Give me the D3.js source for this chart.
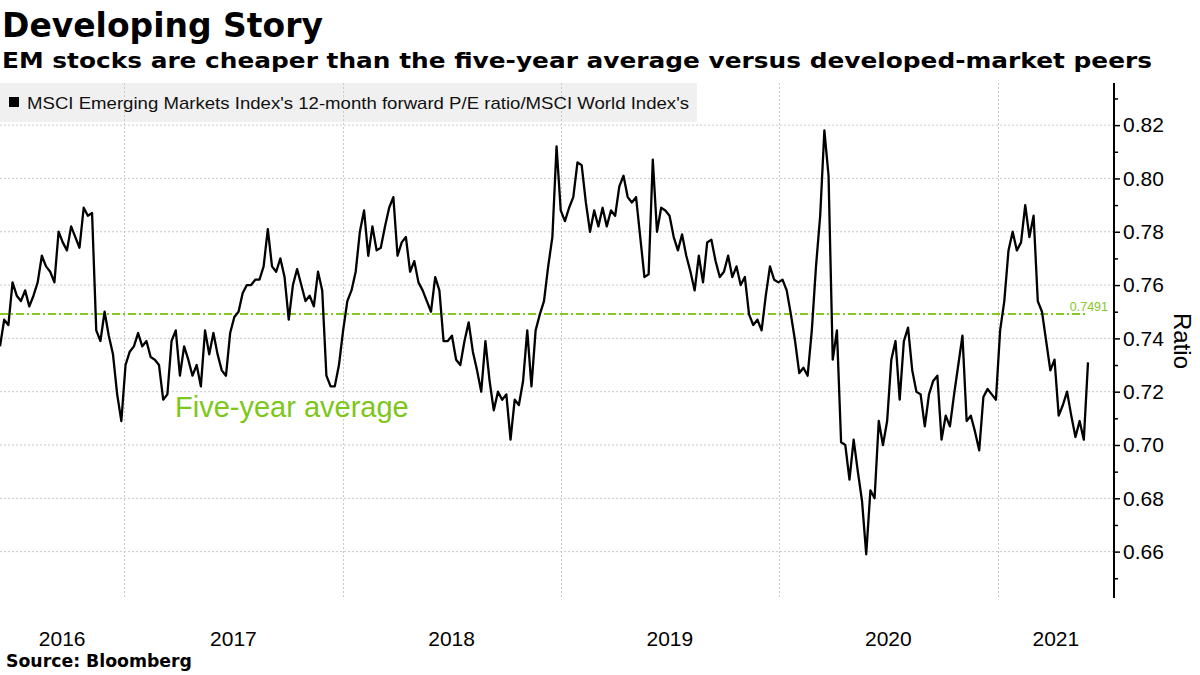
<!DOCTYPE html>
<html><head><meta charset="utf-8">
<script src="https://cdn.jsdelivr.net/npm/d3@7"></script>
<style>body{margin:0;background:#fff}svg{display:block}</style>
</head><body>
<svg id="chart" width="1200" height="675"></svg>
<script>
// ---------------- data ----------------
const titleText = "Developing Story";
const subtitleText = "EM stocks are cheaper than the five-year average versus developed-market peers";
const legendText = "MSCI Emerging Markets Index's 12-month forward P/E ratio/MSCI World Index's";
const sourceText = "Source:  Bloomberg";
const axisTitle = "Ratio";
const averageText = "Five-year average";
const fiveYearAverage = 0.7491;
const seriesStart = "2016-06-07";   // weekly observations from this date
const ratioValues = [
0.737,0.747,0.745,0.761,0.756,0.754,0.758,0.752,0.756,0.761,
0.771,0.767,0.765,0.761,0.780,0.776,0.773,0.782,0.778,0.774,
0.789,0.786,0.787,0.743,0.739,0.750,0.741,0.734,0.719,0.709,
0.730,0.735,0.737,0.742,0.737,0.739,0.733,0.732,0.730,0.717,
0.719,0.739,0.743,0.726,0.737,0.732,0.726,0.730,0.722,0.743,
0.734,0.742,0.734,0.728,0.726,0.742,0.748,0.750,0.757,0.760,
0.760,0.762,0.762,0.767,0.781,0.767,0.765,0.770,0.763,0.747,
0.760,0.766,0.760,0.754,0.756,0.752,0.765,0.758,0.726,0.722,
0.722,0.730,0.743,0.754,0.758,0.765,0.780,0.788,0.771,0.782,
0.773,0.774,0.782,0.789,0.793,0.771,0.776,0.778,0.765,0.769,
0.761,0.758,0.754,0.750,0.763,0.758,0.739,0.739,0.741,0.732,
0.730,0.739,0.746,0.735,0.728,0.720,0.739,0.724,0.713,0.720,
0.717,0.719,0.702,0.717,0.715,0.724,0.743,0.722,0.743,0.749,
0.754,0.767,0.778,0.812,0.788,0.784,0.789,0.793,0.806,0.805,
0.791,0.780,0.788,0.782,0.789,0.782,0.788,0.786,0.797,0.801,
0.793,0.791,0.793,0.778,0.763,0.764,0.807,0.780,0.789,0.788,
0.786,0.778,0.773,0.779,0.771,0.765,0.758,0.771,0.761,0.776,
0.777,0.769,0.763,0.765,0.771,0.763,0.767,0.760,0.763,0.749,
0.745,0.747,0.743,0.756,0.767,0.762,0.761,0.762,0.758,0.749,
0.739,0.727,0.729,0.726,0.743,0.767,0.786,0.818,0.801,0.732,
0.743,0.701,0.700,0.687,0.702,0.690,0.679,0.659,0.683,0.680,
0.709,0.700,0.709,0.732,0.739,0.717,0.739,0.744,0.728,0.720,
0.719,0.707,0.719,0.724,0.726,0.702,0.711,0.707,0.719,0.730,
0.741,0.709,0.711,0.705,0.698,0.718,0.721,0.719,0.717,0.743,
0.754,0.773,0.780,0.773,0.776,0.790,0.778,0.786,0.754,0.750,
0.739,0.728,0.732,0.711,0.715,0.720,0.711,0.703,0.709,0.702,
0.731
];
const yMajorTicks = [0.66,0.68,0.70,0.72,0.74,0.76,0.78,0.80,0.82];
const yMinorTicks = [0.65,0.67,0.69,0.71,0.73,0.75,0.77,0.79,0.81,0.83];
const yearLabels = ["2016","2017","2018","2019","2020","2021"];

// ---------------- layout ----------------
const plot = {left: 0, right: 1114, top: 83, bottom: 598, dataRight: 1088};
const green = "#86c91f";
const gridColor = "#c9c9c9";
const axisFont = "'Liberation Sans', Arial, sans-serif";
const boldFont = "'DejaVu Sans', Verdana, sans-serif";

const parse = d3.utcParse("%Y-%m-%d");
const start = parse(seriesStart);
const series = ratioValues.map((v, i) => ({date: d3.utcWeek.offset(start, i), value: v}));

const x = d3.scaleUtc()
  .domain(d3.extent(series, d => d.date))
  .range([plot.left, plot.dataRight]);
const y = d3.scaleLinear().domain([0.6426, 0.8358]).range([plot.bottom, plot.top]);

const svg = d3.select("#chart");

// titles
svg.append("text").attr("x", 2).attr("y", 37).text(titleText)
  .attr("font-family", boldFont).attr("font-weight", "bold").attr("font-size", 33)
  .attr("textLength", 321).attr("lengthAdjust", "spacingAndGlyphs").attr("fill", "#000");
svg.append("text").attr("x", 2).attr("y", 68).text(subtitleText)
  .attr("font-family", boldFont).attr("font-weight", "bold").attr("font-size", 22)
  .attr("textLength", 1150).attr("lengthAdjust", "spacingAndGlyphs").attr("fill", "#000");

// legend box
svg.append("rect").attr("x", 0).attr("y", plot.top).attr("width", 697).attr("height", 39)
  .attr("fill", "#f0f0f0");

// grid
const grid = svg.append("g");
grid.selectAll("line.h").data(yMajorTicks).join("line")
  .attr("x1", plot.left).attr("x2", plot.right)
  .attr("y1", d => y(d)).attr("y2", d => y(d))
  .attr("stroke", gridColor).attr("stroke-dasharray", "2,2").attr("stroke-width", 1);
const yearTicks = x.ticks(d3.utcYear.every(1));
grid.selectAll("line.v").data(yearTicks).join("line")
  .attr("x1", d => Math.round(x(d)) + 0.5).attr("x2", d => Math.round(x(d)) + 0.5)
  .attr("y1", plot.top).attr("y2", plot.bottom)
  .attr("stroke", gridColor).attr("stroke-dasharray", "2,2").attr("stroke-width", 1);

// legend content
svg.append("rect").attr("x", 9).attr("y", 97).attr("width", 10).attr("height", 10).attr("fill", "#000");
svg.append("text").attr("x", 27).attr("y", 109).text(legendText)
  .attr("font-family", axisFont).attr("font-size", 17)
  .attr("textLength", 662).attr("lengthAdjust", "spacingAndGlyphs").attr("fill", "#111");

// average line
svg.append("line")
  .attr("x1", x(series[0].date)).attr("x2", x(series[series.length - 1].date))
  .attr("y1", y(fiveYearAverage)).attr("y2", y(fiveYearAverage))
  .attr("stroke", green).attr("stroke-width", 2).attr("stroke-dasharray", "8,3,2,3");
svg.append("text").attr("x", 1108).attr("y", y(fiveYearAverage) - 3.5)
  .attr("text-anchor", "end").attr("font-family", axisFont).attr("font-size", 12.5)
  .attr("fill", green).text(d3.format(".4f")(fiveYearAverage));
svg.append("text").attr("x", 175).attr("y", 417)
  .attr("font-family", axisFont).attr("font-size", 29).attr("fill", "#7cc71a").text(averageText);

// series line
svg.append("path").datum(series)
  .attr("fill", "none").attr("stroke", "#000").attr("stroke-width", 2.3)
  .attr("stroke-linejoin", "round")
  .attr("d", d3.line().x(d => x(d.date)).y(d => y(d.value)));

// right axis
const axisG = svg.append("g").attr("transform", `translate(${plot.right},0)`);
axisG.call(d3.axisRight(y).tickValues(yMajorTicks).tickSize(6).tickSizeOuter(0)
  .tickPadding(3).tickFormat(d3.format(".2f")));
axisG.select(".domain").remove();
axisG.selectAll("text").attr("font-family", axisFont).attr("font-size", 21).attr("fill", "#000");
axisG.selectAll("line").attr("stroke", "#000").attr("stroke-width", 1.5);
const minorG = svg.append("g").attr("transform", `translate(${plot.right},0)`);
minorG.call(d3.axisRight(y).tickValues(yMinorTicks).tickSize(4).tickSizeOuter(0).tickFormat(""));
minorG.select(".domain").remove();
minorG.selectAll("line").attr("stroke", "#000").attr("stroke-width", 1.5);
svg.append("line").attr("x1", plot.right).attr("x2", plot.right)
  .attr("y1", plot.top).attr("y2", plot.bottom).attr("stroke", "#000").attr("stroke-width", 2);

svg.append("text")
  .attr("transform", `translate(1174,${(plot.top + plot.bottom) / 2 + 0.5}) rotate(90)`)
  .attr("text-anchor", "middle").attr("font-family", axisFont).attr("font-size", 24)
  .attr("fill", "#000").text(axisTitle);

// year labels centred on each year's visible span
const visibleEnd = x.invert(plot.right);
svg.append("g").selectAll("text").data(yearLabels).join("text")
  .attr("x", d => {
    const y0 = d3.max([d3.utcParse("%Y")(d), x.domain()[0]]);
    const y1 = d3.min([d3.utcParse("%Y")(String(+d + 1)), visibleEnd]);
    return (x(y0) + x(y1)) / 2;
  })
  .attr("y", 646).attr("text-anchor", "middle")
  .attr("font-family", axisFont).attr("font-size", 21).attr("fill", "#000").text(d => d);

// source
svg.append("text").attr("x", 6).attr("y", 667).text(sourceText)
  .attr("font-family", boldFont).attr("font-weight", "bold").attr("font-size", 17)
  .attr("textLength", 186).attr("lengthAdjust", "spacingAndGlyphs").attr("fill", "#000");
</script>
</body></html>
